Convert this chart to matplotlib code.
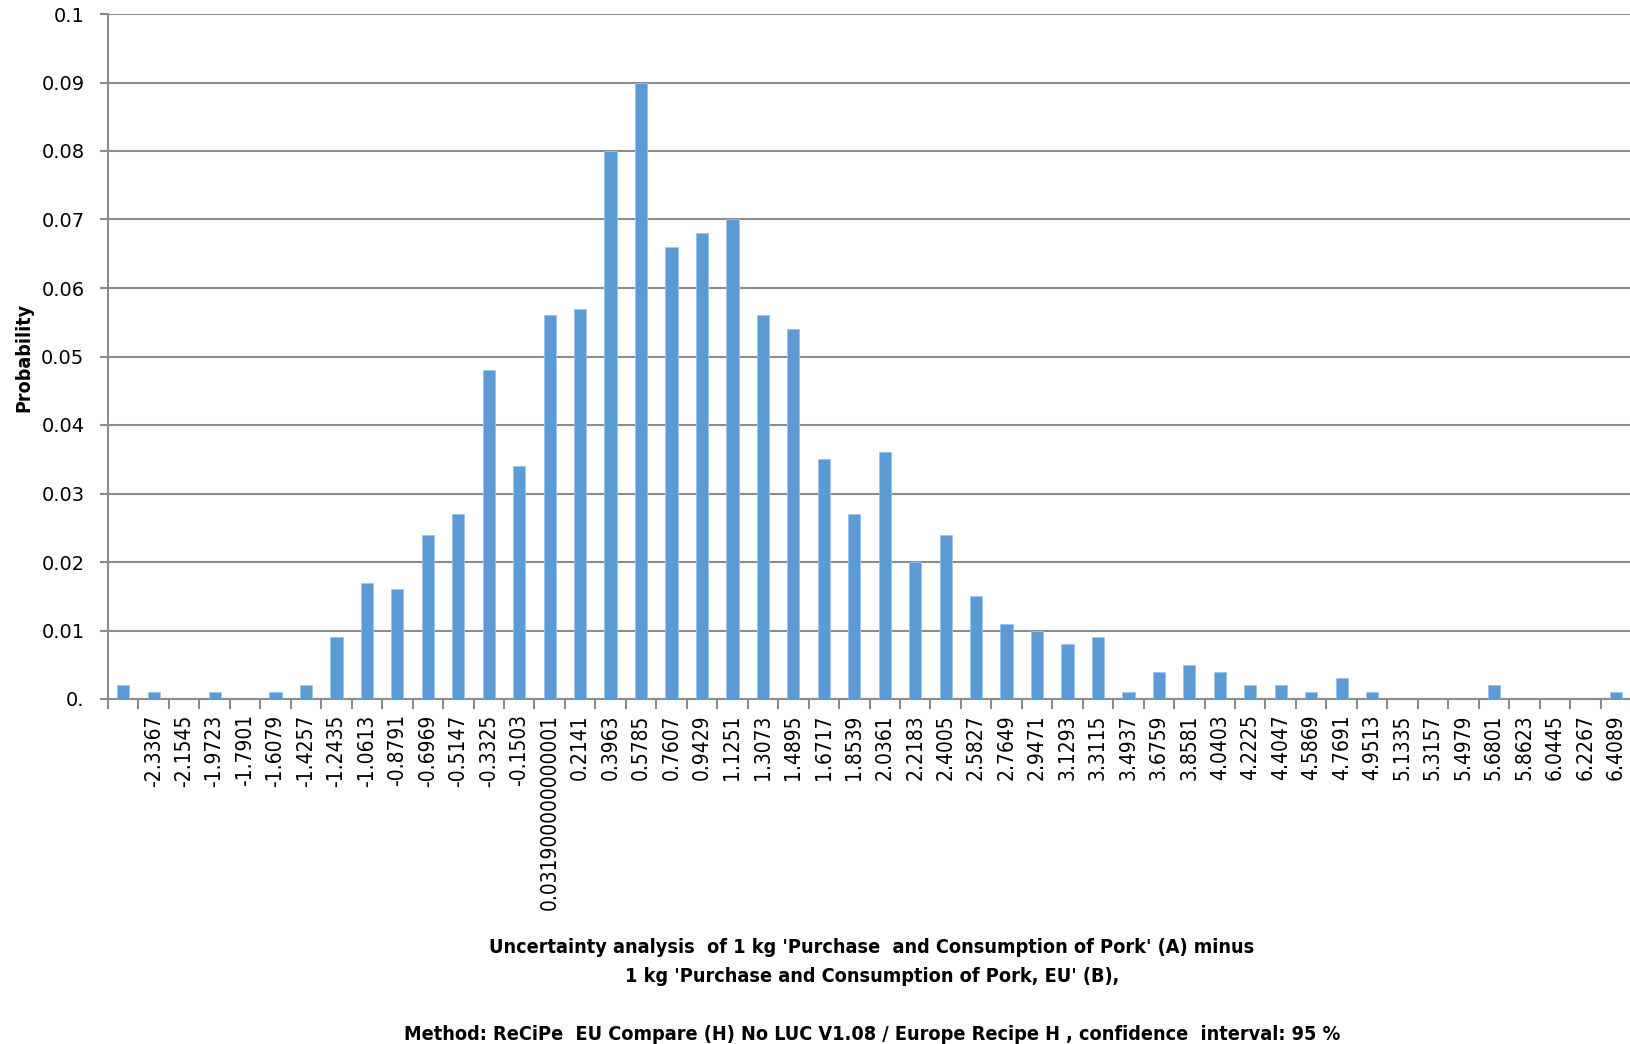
import matplotlib
matplotlib.use("Agg")
import matplotlib.pyplot as plt
import numpy as np
from matplotlib.ticker import FixedLocator

# Bin labels (the first bin has no printed label)
bins = ['', '-2.3367', '-2.1545', '-1.9723', '-1.7901', '-1.6079', '-1.4257', '-1.2435',
        '-1.0613', '-0.8791', '-0.6969', '-0.5147', '-0.3325', '-0.1503',
        '0.031900000000001', '0.2141', '0.3963', '0.5785', '0.7607', '0.9429',
        '1.1251', '1.3073', '1.4895', '1.6717', '1.8539', '2.0361', '2.2183',
        '2.4005', '2.5827', '2.7649', '2.9471', '3.1293', '3.3115', '3.4937',
        '3.6759', '3.8581', '4.0403', '4.2225', '4.4047', '4.5869', '4.7691',
        '4.9513', '5.1335', '5.3157', '5.4979', '5.6801', '5.8623', '6.0445',
        '6.2267', '6.4089']

probability = [0.002, 0.001, 0.0, 0.001, 0.0, 0.001, 0.002, 0.009,
               0.017, 0.016, 0.024, 0.027, 0.048, 0.034,
               0.056, 0.057, 0.080, 0.090, 0.066, 0.068,
               0.070, 0.056, 0.054, 0.035, 0.027, 0.036, 0.020,
               0.024, 0.015, 0.011, 0.010, 0.008, 0.009, 0.001,
               0.004, 0.005, 0.004, 0.002, 0.002, 0.001, 0.003,
               0.001, 0.0, 0.0, 0.0, 0.002, 0.0, 0.0,
               0.0, 0.001]

y_ticks = [0.0, 0.01, 0.02, 0.03, 0.04, 0.05, 0.06, 0.07, 0.08, 0.09, 0.1]
y_tick_labels = ['0.', '0.01', '0.02', '0.03', '0.04', '0.05', '0.06', '0.07', '0.08', '0.09', '0.1']

title_lines = ["Uncertainty analysis  of 1 kg 'Purchase  and Consumption of Pork' (A) minus",
               "1 kg 'Purchase and Consumption of Pork, EU' (B),",
               "",
               "Method: ReCiPe  EU Compare (H) No LUC V1.08 / Europe Recipe H , confidence  interval: 95 %"]

GREY = '#8c8c8c'
BAR = '#5b9bd5'

W, H = 1631, 1044
fig = plt.figure(figsize=(W / 100, H / 100), dpi=100)
ax = fig.add_axes([108 / W, 1 - 699 / H, 1 - 108 / W, (699 - 14) / H])

x = np.arange(len(bins))
ax.bar(x, probability, width=0.4, color=BAR, edgecolor='#9cc3e8', linewidth=0.6, zorder=3)

ax.set_xlim(-0.5, len(bins) - 0.5)
ax.set_ylim(0, 0.1)

# horizontal gridlines
ax.set_yticks(y_ticks)
ax.set_yticklabels(y_tick_labels, family='DejaVu Sans', fontsize=14)
ax.yaxis.grid(True, color=GREY, linewidth=1.5, zorder=0)
ax.tick_params(axis='y', length=6, width=1.5, color=GREY, pad=11)

# category labels centred under bars; tick marks on the bin boundaries
ax.set_xticks(x)
ax.set_xticklabels(bins, rotation=90, family='DejaVu Sans', fontstretch='condensed',
                   fontsize=15, va='top', ha='center')
ax.tick_params(axis='x', which='major', length=0, pad=11)
ax.xaxis.set_minor_locator(FixedLocator(np.arange(-0.5, len(bins), 1.0)))
ax.tick_params(axis='x', which='minor', length=7, width=1.5, color=GREY)

for side in ('top', 'right'):
    ax.spines[side].set_visible(False)
for side in ('left', 'bottom'):
    ax.spines[side].set_color(GREY)
    ax.spines[side].set_linewidth(1.5)

fig.text(24 / W, 1 - 358 / H, 'Probability', rotation=90, ha='center', va='center',
         family='DejaVu Sans', fontstretch='condensed', fontweight='bold', fontsize=14)

baselines = [953, 982, 1011, 1040]
for line, yy in zip(title_lines, baselines):
    if line:
        fig.text(872 / W, 1 - yy / H, line, ha='center', va='baseline',
                 family='DejaVu Sans', fontstretch='condensed', fontweight='bold',
                 fontsize=14.2)

fig.savefig('out.png', dpi=100, facecolor='white')
